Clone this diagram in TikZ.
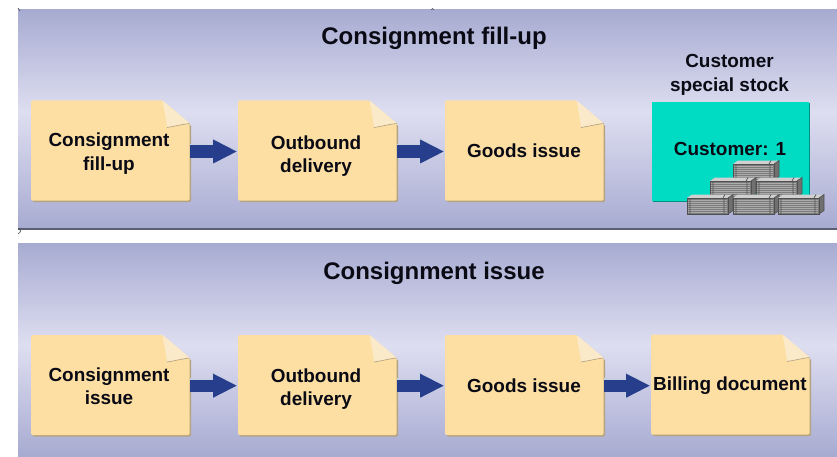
\documentclass[tikz,border=0pt]{standalone}
\usepackage{fontspec}
\setmainfont{Liberation Sans}
\usetikzlibrary{arrows.meta}
\definecolor{panelend}{HTML}{A7ABD1}
\definecolor{panelmid}{HTML}{DEDEF1}
\definecolor{notefill}{HTML}{FDDFA3}
\definecolor{notefold}{HTML}{FBEACA}
\definecolor{noteedge}{HTML}{B5A27E}
\definecolor{arrowblue}{HTML}{263E8C}
\definecolor{stockteal}{HTML}{00DCC4}
\definecolor{brickfront}{HTML}{7C7C7C}
\definecolor{brickline}{HTML}{ABABAB}
\definecolor{bricktop}{HTML}{D0D0D0}
\definecolor{brickedge}{HTML}{505050}
\definecolor{inkblack}{HTML}{0A0A14}
\tikzset{
  x=0.75pt,y=-0.75pt,
  noteanchor/.style={inner sep=0pt,minimum width=119.25pt,minimum height=75.75pt},
  notetext/.style={font=\fontsize{14.2}{17.5}\selectfont\bfseries,text=inkblack,align=center,inner sep=0pt},
  paneltitle/.style={font=\fontsize{18}{21}\selectfont\bfseries,text=inkblack,inner sep=0pt},
  flowback/.style={line width=11pt,white!75!arrowblue,-{Triangle[length=18.8pt,width=18.8pt]}},
  flow/.style={line width=9.2pt,arrowblue,-{Triangle[length=18pt,width=16.5pt]}},
  stray/.style={line width=0.5pt,black!70}
}
% note: top-left x, y
\newcommand{\notebg}[2]{%
  \fill[noteedge,rounded corners=1pt] (#1+1.5,#2+30) -- (#1+150,#2+24) -- (#1+160,#2+24) -- (#1+160,#2+101.5) -- (#1+1.5,#2+101.5) -- cycle;
  \fill[notefill,rounded corners=1pt] (#1,#2) -- (#1+131.5,#2) -- (#1+158.7,#2+23) -- (#1+158.7,#2+100) -- (#1,#2+100) -- cycle;
  \fill[notefold] (#1+131.5,#2) -- (#1+158.7,#2+23) .. controls (#1+150,#2+24) and (#1+143,#2+26) .. (#1+136,#2+27) .. controls (#1+135,#2+18) and (#1+133,#2+8) .. cycle;
  \draw[noteedge,line width=0.5pt] (#1+158.7,#2+23) .. controls (#1+150,#2+24) and (#1+143,#2+26) .. (#1+136,#2+27);
}
% brick: left x, top y of front
\newcommand{\brick}[2]{%
  \fill[bricktop] (#1,#2) -- (#1+5,#2-3.5) -- (#1+46,#2-3.5) -- (#1+41,#2) -- cycle;
  \fill[brickfront!90!black] (#1+41,#2) -- (#1+46,#2-3.5) -- (#1+46,#2+12.5) -- (#1+41,#2+16) -- cycle;
  \fill[brickfront] (#1,#2) rectangle (#1+41,#2+16);
  \foreach \k in {2,4,...,15}{\draw[brickline,line width=0.6pt] (#1+1,#2+\k) -- (#1+40,#2+\k);}
  \draw[brickedge,line width=0.5pt] (#1,#2) rectangle (#1+41,#2+16);
  \draw[brickedge,line width=0.5pt] (#1+3,#2) -- (#1+3,#2+16) (#1+37,#2) -- (#1+37,#2+16) (#1+38,#2-3.5) -- (#1+36,#2) (#1+41,#2) -- (#1+46,#2-3.5) -- (#1+46,#2+12.5) -- (#1+41,#2+16);
}
\begin{document}
\begin{tikzpicture}
\useasboundingbox (0,0) rectangle (837,456);
\fill[white] (0,0) rectangle (837,456);
% panels
\fill[top color=panelend,bottom color=panelmid,draw=none] (18,10) rectangle (837,112);
\fill[top color=panelmid,bottom color=panelend,draw=none] (18,112) rectangle (837,229);
\fill[black!45!panelend] (18,228) rectangle (837,230.3);
\fill[top color=panelend,bottom color=panelmid,draw=none] (18,243) rectangle (837,345);
\fill[top color=panelmid,bottom color=panelend,draw=none] (18,345) rectangle (837,456);
% stray marks
\draw[stray] (18,8) -- (20,11);
\draw[stray] (431,10) arc (180:360:1.5);
\draw[stray] (18,233.5) arc (90:-90:2.5);
% titles
\node[paneltitle] (t1) at (434,38.5) {Consignment fill-up};
\node[paneltitle] (t2) at (434,273.5) {Consignment issue};
% stock
\fill[black!35!stockteal] (653,103) rectangle (810,202);
\fill[stockteal] (652,102) rectangle (809,200.5);
\node[notetext] (cs) at (729.5,75) {Customer\\special stock};
\node[notetext] (c1) at (730,149) {Customer: 1};
\brick{733}{164}
\brick{710}{181}
\brick{756}{181}
\brick{687}{198}
\brick{733}{198}
\brick{778}{198}
% notes row 1
\notebg{31}{100.5}\notebg{238}{100.5}\notebg{445}{100.5}
\node[noteanchor] (a1) at (110,151.5) {};
\node[noteanchor] (a2) at (317,151.5) {};
\node[noteanchor] (a3) at (524,151.5) {};
\node[notetext] (la1) at (109,153.5) {Consignment\\fill-up};
\node[notetext] (la2) at (316,156) {Outbound\\delivery};
\node[notetext] (la3) at (524,151) {Goods issue};
% notes row 2
\notebg{31}{335}\notebg{238}{335}\notebg{445}{335}\notebg{651}{334.5}
\node[noteanchor] (b1) at (110,385.7) {};
\node[noteanchor] (b2) at (317,385.7) {};
\node[noteanchor] (b3) at (524,385.7) {};
\node[noteanchor] (b4) at (730,385.7) {};
\node[notetext] (lb1) at (109,386) {Consignment\\issue};
\node[notetext] (lb2) at (316,389) {Outbound\\delivery};
\node[notetext] (lb3) at (524,386) {Goods issue};
\node[notetext] (lb4) at (730,386) {Billing document};
% arrows
\foreach \p/\q in {a1/a2,a2/a3,b1/b2,b2/b3,b3/b4}{
  \draw[flowback] ([yshift=0.5pt]\p.east) -- ([yshift=0.5pt]\q.west);
  \draw[flow] (\p.east) -- (\q.west);
}
\end{tikzpicture}
\end{document}
